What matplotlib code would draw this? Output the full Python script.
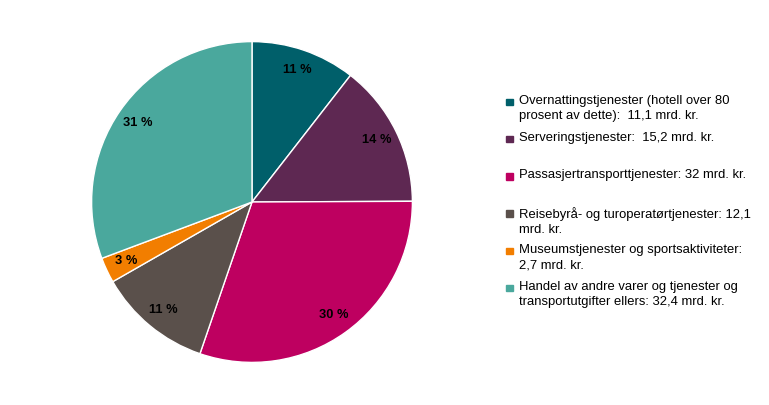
import matplotlib.pyplot as plt
from matplotlib.patches import Rectangle

plt.rcParams['font.family'] = ['Liberation Sans', 'DejaVu Sans']

# Values in mrd. kr.
labels = [
    "Overnattingstjenester (hotell over 80\nprosent av dette):  11,1 mrd. kr.",
    "Serveringstjenester:  15,2 mrd. kr.",
    "Passasjertransporttjenester: 32 mrd. kr.",
    "Reisebyrå- og turoperatørtjenester: 12,1\nmrd. kr.",
    "Museumstjenester og sportsaktiviteter:\n2,7 mrd. kr.",
    "Handel av andre varer og tjenester og\ntransportutgifter ellers: 32,4 mrd. kr.",
]
values = [11.1, 15.2, 32, 12.1, 2.7, 32.4]
colors = ['#005F6A', '#5E2852', '#BE0060', '#5A504B', '#F27E00', '#4AA89D']

W, H = 769, 405
fig = plt.figure(figsize=(W / 100, H / 100), dpi=100)

# pie centre at (252, 202) px, radius 162 px
cx, cy, r = 252, 202, 162
ax = fig.add_axes([(cx - r) / W, (H - cy - r) / H, 2 * r / W, 2 * r / H])
wedges, texts, autotexts = ax.pie(
    values, colors=colors, startangle=90, counterclock=False,
    autopct=lambda p: f"{p:.0f} %", pctdistance=0.87, radius=1,
    wedgeprops=dict(edgecolor='white', linewidth=1),
    textprops=dict(fontsize=9.3, fontweight='bold', color='black'))
ax.set_xlim(-1.01, 1.01)
ax.set_ylim(-1.01, 1.01)
ax.set_aspect('equal')
ax.axis('off')

# legend drawn by hand, fixed slots like the original
y0, step = 102, 37.2
for i, (lab, col) in enumerate(zip(labels, colors)):
    yc = y0 + i * step
    fig.patches.append(Rectangle((506 / W, (H - yc - 3.2) / H), 6.5 / W, 6.5 / H,
                                 transform=fig.transFigure, color=col))
    fig.text(519 / W, (H - yc + 7) / H, lab, fontsize=9.4, va='top', ha='left',
             color='black', linespacing=1.38)

fig.savefig('out.png', dpi=100)
